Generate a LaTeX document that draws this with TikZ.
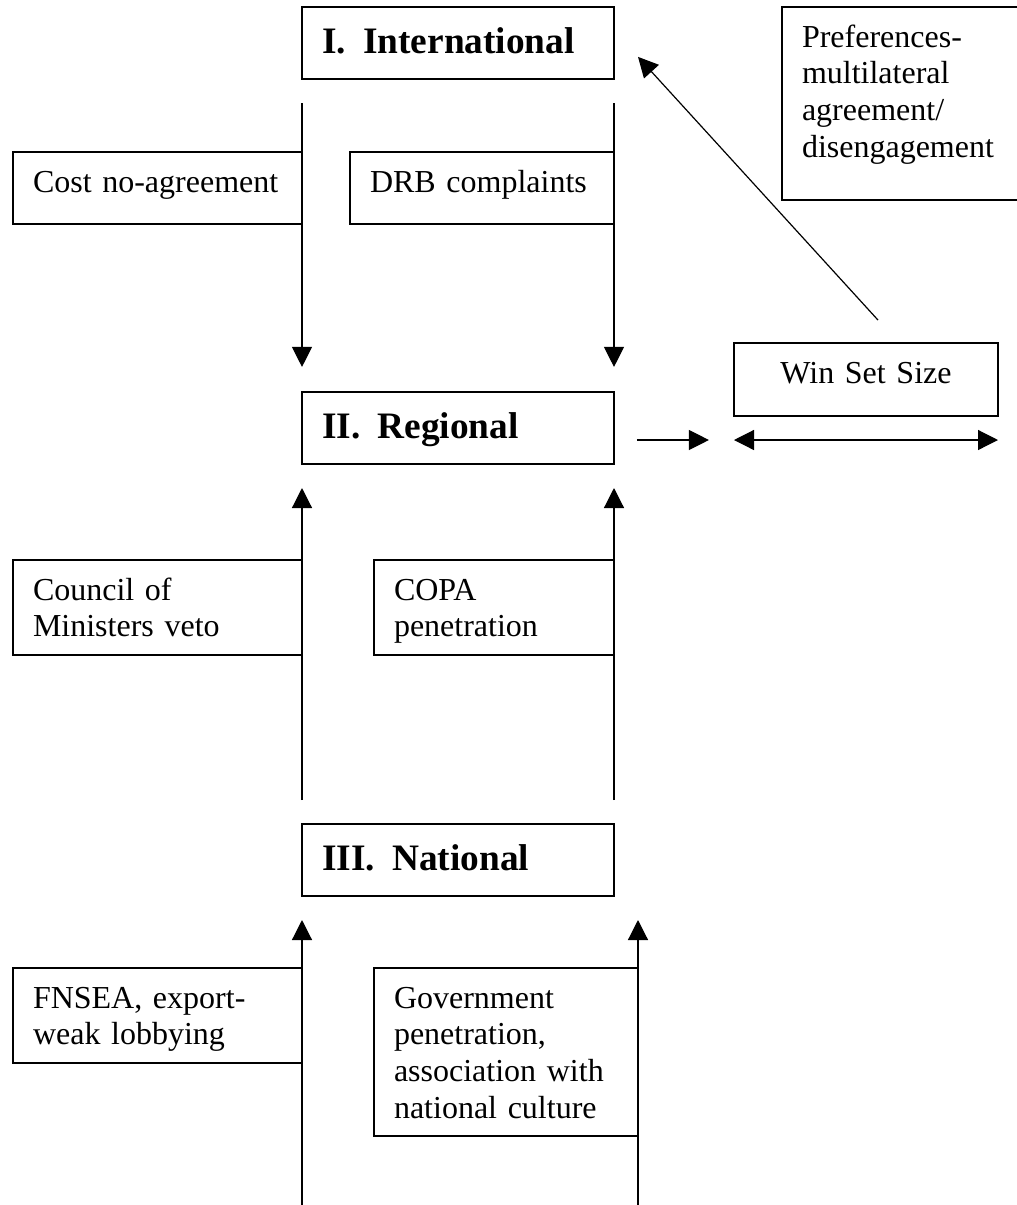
\documentclass[tikz,border=0pt]{standalone}
\usepackage{fontspec}
\setmainfont{Liberation Serif}
\usetikzlibrary{arrows.meta, positioning}
\newdimen\upx
\upx=0.375pt

\begin{document}
\begin{tikzpicture}[x=0.375pt, y=-0.375pt,
  box/.style={rectangle, draw=black, line width=0.6pt, anchor=north west, outer sep=0pt,
              inner xsep=20\upx, inner ysep=0pt, align=left, text height=40\upx,
              font=\fontsize{12pt}{13.75pt}\selectfont},
  levelbox/.style={box, text width=272\upx, text height=46\upx, text depth=26\upx,
                   font=\fontsize{14pt}{16pt}\selectfont\bfseries},
  arr/.style={-{Triangle[length=7.5pt, width=7.5pt]}, line width=0.45pt},
  dblarr/.style={{Triangle[length=7.5pt, width=7.5pt]}-{Triangle[length=7.5pt, width=7.5pt]}, line width=0.45pt},
]
\useasboundingbox (0,0) rectangle (1016,1205);

%% LEVELS
\node[levelbox] (intl)     at (302,7)   {I.\hspace{6.5pt}International};
\node[levelbox] (regional) at (302,392) {II.\hspace{6.5pt}Regional};
\node[levelbox] (national) at (302,824) {III.\hspace{6.5pt}National};

%% INTERNATIONAL -> REGIONAL
\node[box, text width=249\upx, text depth=32\upx] (cost) at (13,152)  {Cost no-agreement};
\node[box, text width=224\upx, text depth=32\upx] (drb)  at (350,152) {DRB complaints};

%% REGIONAL <- NATIONAL
\node[box, text width=249\upx, text depth=55\upx] (council) at (13,560)  {Council of\\Ministers veto};
\node[box, text width=200\upx, text depth=55\upx] (copa)    at (374,560) {COPA\\penetration};

%% NATIONAL <- DOMESTIC
\node[box, text width=249\upx, text depth=55\upx]  (fnsea) at (13,968)  {FNSEA, export-\\weak lobbying};
\node[box, text width=224\upx, text depth=128\upx] (govt)  at (374,968) {Government\\penetration,\\association with\\national culture};

%% WIN SET
\node[box, text width=196\upx, text depth=153\upx] (pref) at (782,7) {Preferences-\\multilateral\\agreement/\\disengagement};
\node[box, align=center, text width=224\upx, text depth=33\upx] (winset) at (734,343) {Win Set Size};

\coordinate (edge) at (0,1205);
\coordinate (size) at ([yshift=-9pt]winset.south west);

%% ARROWS
\draw[arr] ([yshift=-9pt]intl.south west) -- ([yshift=9.4pt]regional.north west);
\draw[arr] ([yshift=-9pt]intl.south east) -- ([yshift=9.4pt]regional.north east);

\draw[arr] ([yshift=9pt]national.north west) -- ([yshift=-9pt]regional.south west);
\draw[arr] ([yshift=9pt]national.north east) -- ([yshift=-9pt]regional.south east);

\draw[arr] (national.south west |- edge) -- ([yshift=-9pt]national.south west);
\draw[arr] (govt.north east |- edge) -- ([yshift=18pt]govt.north east);

\draw[arr] ([xshift=8.6pt]regional.east |- size) -- ([xshift=-9.4pt]size);
\draw[dblarr] (size) -- ([yshift=-9pt]winset.south east);
\draw[arr] ([xshift=4.5pt,yshift=8.6pt]winset.north) -- ([xshift=9pt,yshift=-5.2pt]intl.east);
\end{tikzpicture}
\end{document}
